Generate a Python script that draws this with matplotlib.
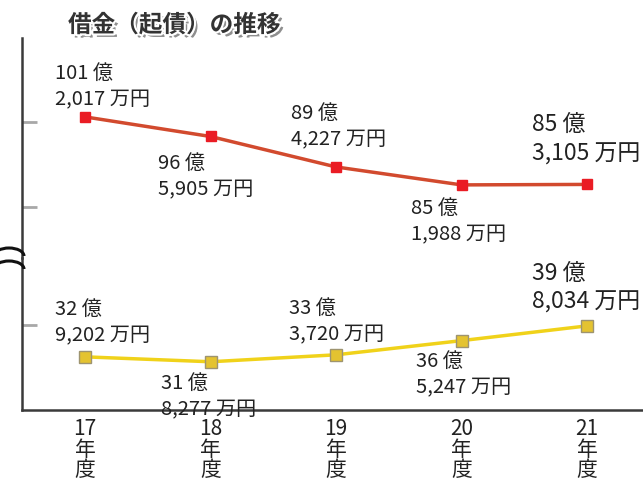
import matplotlib
matplotlib.use('Agg')
import matplotlib.pyplot as plt
import matplotlib.patheffects as pe
from matplotlib.patches import Arc

plt.rcParams['font.family'] = ['Noto Sans CJK JP', 'DejaVu Sans']

years = ['17', '18', '19', '20', '21']
# 借金 (億 + 万円)
red_oku = [101, 96, 89, 85, 85]
red_man = [2017, 5905, 4227, 1988, 3105]
yel_oku = [32, 31, 33, 36, 39]
yel_man = [9202, 8277, 3720, 5247, 8034]

red_vals = [o + m / 10000 for o, m in zip(red_oku, red_man)]
yel_vals = [o + m / 10000 for o, m in zip(yel_oku, yel_man)]
x = list(range(len(years)))

# label offsets in pixels (dx, dy) from each marker
red_off = [(-30, 30), (-53, -40), (-45, 40), (-51, -37), (-55, 45)]
yel_off = [(-30, 34), (-50, -35), (-47, 33), (-46, -34), (-55, 38)]

W, H = 643, 491
fig = plt.figure(figsize=(W / 100, H / 100), dpi=100)

def fx(px):
    return px / W

def fy(py):
    return (H - py) / H

ax_top = fig.add_axes([fx(22), fy(258), fx(643 - 22), (258 - 38) / H])
ax_bot = fig.add_axes([fx(22), fy(410), fx(643 - 22), (410 - 258) / H])

spine_c = '#3a3a3a'
for ax in (ax_top, ax_bot):
    ax.set_xlim(-0.502, 4.446)
    for s in ('top', 'right'):
        ax.spines[s].set_visible(False)
    ax.spines['left'].set_color(spine_c)
    ax.spines['left'].set_linewidth(1.8)
    ax.tick_params(axis='y', direction='in', length=11, width=2, color='#a8a8a8',
                   labelleft=False)
    ax.patch.set_alpha(0)

ax_top.spines['bottom'].set_visible(False)
ax_top.set_xticks([])
ax_top.set_ylim(68.0, 119.76)
ax_top.set_yticks([80, 100])

ax_bot.spines['bottom'].set_color(spine_c)
ax_bot.spines['bottom'].set_linewidth(1.8)
ax_bot.set_ylim(21.1, 54.9)
ax_bot.set_yticks([40])
ax_bot.set_xticks(x)
ax_bot.set_xticklabels([y + '\n年\n度' for y in years], fontsize=15,
                       linespacing=0.9, color='#222222')
ax_bot.tick_params(axis='x', length=0, pad=6)

ax_top.plot(x, red_vals, color='#d24a2e', lw=2.5, marker='s', ms=7,
            mfc='#ea1c24', mec='#ea1c24', clip_on=False)
ax_bot.plot(x, yel_vals, color='#f0d21a', lw=2.5, marker='s', ms=8,
            mfc='#e4c330', mec='#9e9470', mew=1, clip_on=False)

for i in x:
    big = i == len(x) - 1
    fs = 16.5 if big else 14.5
    ax_top.annotate(f'{red_oku[i]} 億\n{red_man[i]:,} 万円', (i, red_vals[i]),
                    xytext=red_off[i], textcoords='offset pixels',
                    ha='left', va='center', fontsize=fs, color='#222222',
                    linespacing=1.35, annotation_clip=False)
    ax_bot.annotate(f'{yel_oku[i]} 億\n{yel_man[i]:,} 万円', (i, yel_vals[i]),
                    xytext=yel_off[i], textcoords='offset pixels',
                    ha='left', va='center', fontsize=fs, color='#222222',
                    linespacing=1.35, annotation_clip=False)

# axis break mark
for cy in (256, 269):
    fig.add_artist(Arc((fx(9), fy(cy)), fx(30), 16 / H, theta1=0, theta2=180,
                       transform=fig.transFigure, color='#111111', lw=2.2))

fig.text(fx(68), fy(25), '借金（起債）の推移', fontsize=17, fontweight='bold',
         color='#333333', va='center', ha='left',
         path_effects=[pe.SimplePatchShadow(offset=(2.5, -2.5), shadow_rgbFace='#444444', alpha=0.6),
                       pe.withStroke(linewidth=3, foreground='white')])

fig.savefig('out.png', dpi=100)
